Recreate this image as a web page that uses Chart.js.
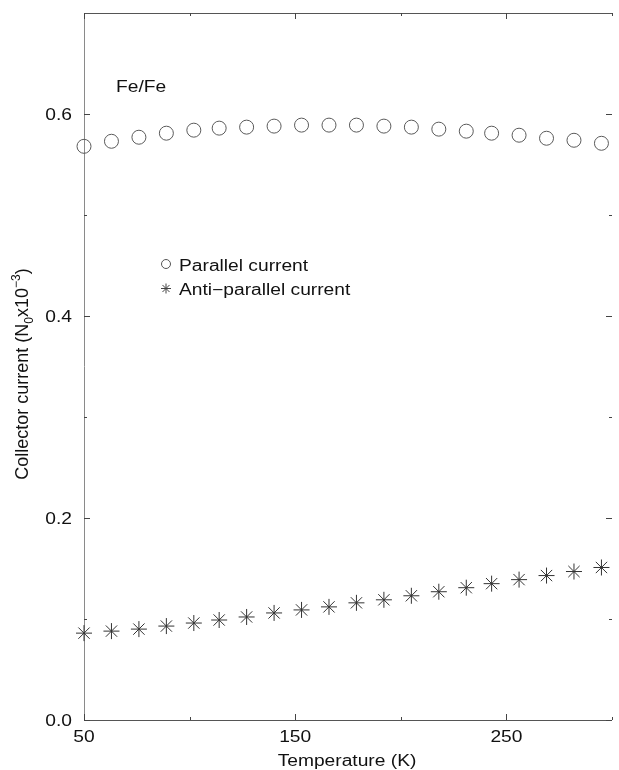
<!DOCTYPE html>
<html>
<head>
<meta charset="utf-8">
<script src="https://cdn.jsdelivr.net/npm/chart.js@4.4.1/dist/chart.umd.min.js"></script>
<style>
  html, body { margin: 0; padding: 0; background: #fff; overflow: hidden; }
  #wrap { position: relative; width: 621px; height: 770px; }
</style>
</head>
<body>
<div id="wrap"><canvas id="c" width="621" height="770"></canvas></div>
<script>
// Temperature (K) of each measurement
const temperatures = [50, 63, 76, 89, 102, 114, 127, 140, 153, 166, 179, 192, 205, 218, 231, 243, 256, 269, 282, 295];
// Collector current, units of N0 x 10^-3
const parallelCurrent = [0.568, 0.573, 0.577, 0.581, 0.584, 0.586, 0.587, 0.588, 0.589, 0.589,
                         0.589, 0.588, 0.587, 0.585, 0.583, 0.581, 0.579, 0.576, 0.574, 0.571];
const antiParallelCurrent = [0.086, 0.088, 0.090, 0.093, 0.096, 0.099, 0.102, 0.106, 0.109, 0.112,
                             0.116, 0.119, 0.123, 0.127, 0.131, 0.135, 0.139, 0.143, 0.147, 0.151];
// Axis ticks
const xTickValues = [50, 150, 250];
const xMinorTicks = [100, 200, 300];
const yTickValues = [0.0, 0.2, 0.4, 0.6];
const yMinorTicks = [0.1, 0.3, 0.5];
const seriesLabels = ['Parallel current', 'Anti\u2212parallel current'];

const FONT = '"Liberation Sans", Arial, Helvetica, sans-serif';
const SX = 1.2; // horizontal widening of the lettering

function wideText(ctx, text, x, y, align, size, sx) {
  ctx.save();
  ctx.font = size + 'px ' + FONT;
  ctx.textAlign = 'left';
  ctx.textBaseline = 'alphabetic';
  const w = ctx.measureText(text).width * sx;
  const x0 = align === 'center' ? x - w / 2 : (align === 'right' ? x - w : x);
  ctx.translate(x0, y);
  ctx.scale(sx, 1);
  ctx.fillText(text, 0, 0);
  ctx.restore();
}

function drawAsterisk(ctx, x, y, r) {
  ctx.beginPath();
  ctx.moveTo(x - r, y); ctx.lineTo(x + r, y);
  ctx.moveTo(x, y - r); ctx.lineTo(x, y + r);
  const d = r * Math.SQRT1_2;
  ctx.moveTo(x - d, y - d); ctx.lineTo(x + d, y + d);
  ctx.moveTo(x - d, y + d); ctx.lineTo(x + d, y - d);
  ctx.stroke();
}

const framePlugin = {
  id: 'framePlugin',
  beforeDatasetsDraw(chart) {
    const { ctx, chartArea: a, scales: { x, y } } = chart;
    ctx.save();
    ctx.lineWidth = 1;
    // top and bottom of the frame
    ctx.strokeStyle = '#555';
    ctx.beginPath();
    ctx.moveTo(a.left, a.top + 0.5); ctx.lineTo(a.right, a.top + 0.5);
    ctx.moveTo(a.left, a.bottom + 0.5); ctx.lineTo(a.right, a.bottom + 0.5);
    ctx.stroke();
    // left axis
    ctx.strokeStyle = '#8a8a8a';
    ctx.beginPath();
    ctx.moveTo(a.left + 0.5, a.top); ctx.lineTo(a.left + 0.5, a.bottom);
    ctx.stroke();
    // inward tick marks
    ctx.strokeStyle = '#444';
    ctx.beginPath();
    const xt = (v, len) => {
      const px = Math.round(x.getPixelForValue(v)) + 0.5;
      ctx.moveTo(px, a.bottom); ctx.lineTo(px, a.bottom - len);
      ctx.moveTo(px, a.top); ctx.lineTo(px, a.top + len);
    };
    const yt = (v, len) => {
      const py = Math.round(y.getPixelForValue(v)) + 0.5;
      ctx.moveTo(a.left, py); ctx.lineTo(a.left + len, py);
      ctx.moveTo(a.right, py); ctx.lineTo(a.right - len, py);
    };
    xTickValues.forEach(v => xt(v, 6));
    xMinorTicks.forEach(v => xt(v, 3));
    yTickValues.forEach(v => yt(v, 6));
    yMinorTicks.forEach(v => yt(v, 3));
    ctx.stroke();
    ctx.restore();
  },
  afterDraw(chart) {
    const { ctx, chartArea: a, scales: { x, y } } = chart;
    ctx.save();
    ctx.fillStyle = '#111';
    // tick labels
    x.ticks.forEach(t => {
      wideText(ctx, String(t.value), x.getPixelForValue(t.value), a.bottom + 22, 'center', 16, SX);
    });
    y.ticks.forEach(t => {
      wideText(ctx, t.value.toFixed(1), a.left - 12, y.getPixelForValue(t.value) + 6, 'right', 16, SX);
    });
    // axis titles
    wideText(ctx, 'Temperature (K)', (a.left + a.right) / 2 - 1, 766, 'center', 16, SX);

    ctx.save();
    ctx.translate(28, 374);
    ctx.rotate(-Math.PI / 2);
    const big = '18px ' + FONT, small = '12px ' + FONT;
    const parts = [
      ['Collector current (N', big, 0],
      ['0', small, 5],
      ['x10', big, 0],
      ['\u22123', small, -8],
      [')', big, 0]
    ];
    let total = 0;
    parts.forEach(p => { ctx.font = p[1]; total += ctx.measureText(p[0]).width; });
    let cx = -total / 2;
    ctx.textBaseline = 'alphabetic';
    parts.forEach(p => {
      ctx.font = p[1];
      ctx.fillText(p[0], cx, p[2]);
      cx += ctx.measureText(p[0]).width;
    });
    ctx.restore();

    // sample label
    wideText(ctx, 'Fe/Fe', 116, 92, 'left', 16, SX);

    // legend
    ctx.lineWidth = 1;
    ctx.strokeStyle = '#555';
    ctx.beginPath();
    ctx.arc(166, 264, 4.5, 0, Math.PI * 2);
    ctx.stroke();
    wideText(ctx, seriesLabels[0], 179, 271, 'left', 16, SX);
    ctx.strokeStyle = '#444';
    drawAsterisk(ctx, 166, 288.5, 5);
    wideText(ctx, seriesLabels[1], 179, 295, 'left', 16, SX);
    ctx.restore();
  }
};

new Chart(document.getElementById('c'), {
  type: 'scatter',
  data: {
    datasets: [
      {
        label: seriesLabels[0],
        data: temperatures.map((t, i) => ({ x: t, y: parallelCurrent[i] })),
        showLine: false,
        clip: false,
        pointStyle: 'circle',
        pointRadius: 7,
        pointHoverRadius: 7,
        pointBorderWidth: 1,
        pointBorderColor: '#5a5a5a',
        pointBackgroundColor: 'rgba(0,0,0,0)'
      },
      {
        label: seriesLabels[1],
        data: temperatures.map((t, i) => ({ x: t, y: antiParallelCurrent[i] })),
        showLine: false,
        clip: false,
        pointStyle: 'star',
        pointRadius: 8,
        pointHoverRadius: 8,
        pointBorderWidth: 1,
        pointBorderColor: '#333',
        pointBackgroundColor: '#333'
      }
    ]
  },
  options: {
    responsive: false,
    animation: false,
    events: [],
    layout: { padding: { top: 13, right: 1, left: 0, bottom: 0 } },
    plugins: { legend: { display: false }, tooltip: { enabled: false } },
    scales: {
      x: {
        type: 'linear',
        min: 50,
        max: 300,
        afterBuildTicks: s => { s.ticks = xTickValues.map(v => ({ value: v })); },
        afterFit: s => { s.height = 50; },
        grid: { display: false, drawTicks: false },
        border: { display: false },
        ticks: { display: false }
      },
      y: {
        type: 'linear',
        min: 0,
        max: 0.7,
        afterBuildTicks: s => { s.ticks = yTickValues.map(v => ({ value: v })); },
        afterFit: s => { s.width = 84; },
        grid: { display: false, drawTicks: false },
        border: { display: false },
        ticks: { display: false }
      }
    }
  },
  plugins: [framePlugin]
});
</script>
</body>
</html>
